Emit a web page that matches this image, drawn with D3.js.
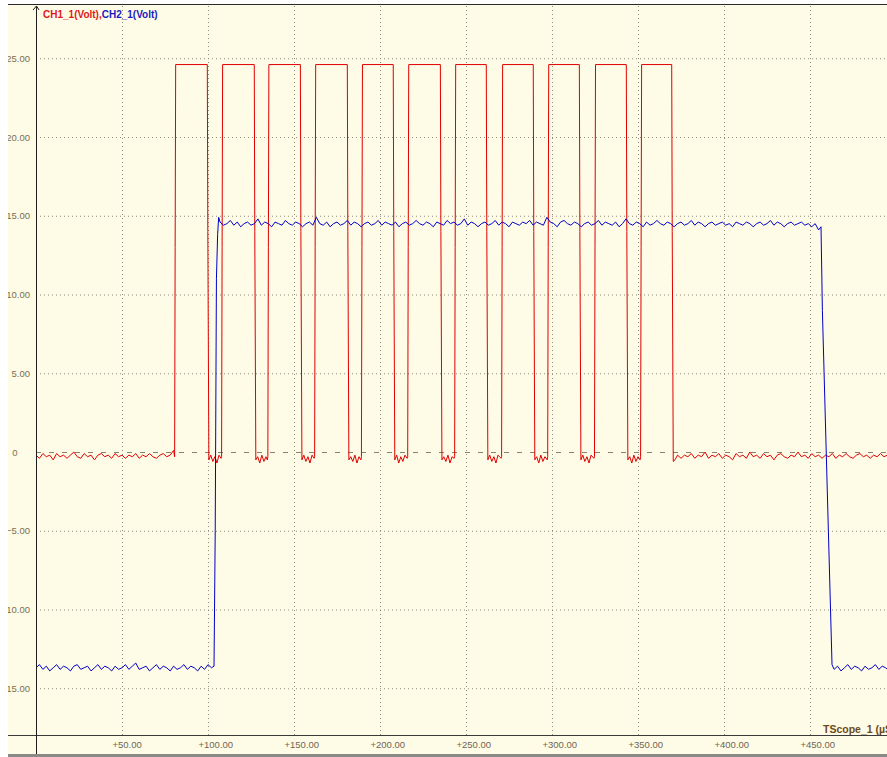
<!DOCTYPE html>
<html>
<head>
<meta charset="utf-8">
<script src="https://cdn.jsdelivr.net/npm/d3@7"></script>
<style>
  html, body { margin: 0; padding: 0; background: #fff; }
  svg { display: block; }
</style>
</head>
<body>
<div class="scope"></div>
<script>
// axis ticks
const xTicks = [50, 100, 150, 200, 250, 300, 350, 400, 450];
const yTicks = [25, 20, 15, 10, 5, 0, -5, -10, -15];
const seriesNames = ["CH1_1(Volt),", "CH2_1(Volt)"];
const xTitle = "TScope_1 (\u00b5S)";

// CH1 trace, [time us, volt]
const ch1 = [
  [0,-0.2],[2,-0.4],[4,-0.1],[6,-0.3],[8,-0.2],[10,-0.5],[12,-0.1],[14,-0.3],[16,-0.2],[18,-0.4],
  [20,-0.2],[22,0.0],[24,-0.3],[26,-0.4],[28,-0.1],[30,-0.3],[32,-0.2],[34,-0.5],[36,-0.2],[38,-0.1],
  [40,-0.3],[42,-0.2],[44,-0.4],[46,-0.1],[48,-0.3],[50,-0.2],[52,-0.4],[54,-0.2],[56,-0.3],[58,-0.1],
  [60,-0.4],[62,-0.2],[64,-0.3],[66,-0.1],[68,-0.3],[70,-0.4],[72,-0.2],[74,-0.1],[76,-0.3],[78,-0.2],[80,0.1],
  [80.6,-0.3],[80.9,13],[81.2,24.6],[99.6,24.6],[99.9,14],[100.5,-0.5],
  [101.6,-0.2],[102.8,-0.6],[104.0,-0.3],[105.2,-0.7],[106.4,-0.2],[107.6,-0.4],
  [107.9,-0.3],[108.2,13],[108.5,24.6],[126.9,24.6],[127.2,14],[127.8,-0.5],
  [128.9,-0.3],[130.1,-0.7],[131.3,-0.2],[132.5,-0.6],[133.7,-0.3],[134.5,-0.5],
  [134.8,-0.3],[135.1,13],[135.4,24.6],[153.7,24.6],[154.0,14],[154.6,-0.5],
  [155.7,-0.2],[156.9,-0.6],[158.1,-0.3],[159.3,-0.7],[160.5,-0.2],[161.7,-0.4],
  [162.0,-0.3],[162.3,13],[162.6,24.6],[181.0,24.6],[181.3,14],[181.9,-0.5],
  [183.0,-0.3],[184.2,-0.6],[185.4,-0.2],[186.6,-0.7],[187.8,-0.3],[188.9,-0.5],
  [189.2,-0.3],[189.5,13],[189.8,24.6],[207.7,24.6],[208.0,14],[208.6,-0.5],
  [209.7,-0.2],[210.9,-0.7],[212.1,-0.3],[213.3,-0.6],[214.5,-0.2],[215.8,-0.4],
  [216.1,-0.3],[216.4,13],[216.7,24.6],[235.1,24.6],[235.4,14],[236.0,-0.5],
  [237.1,-0.3],[238.3,-0.6],[239.5,-0.2],[240.7,-0.7],[241.9,-0.3],[243.1,-0.4],
  [243.4,-0.3],[243.7,13],[244.0,24.6],[261.8,24.6],[262.1,14],[262.7,-0.5],
  [263.8,-0.2],[265.0,-0.6],[266.2,-0.3],[267.4,-0.7],[268.6,-0.2],[270.4,-0.4],
  [270.7,-0.3],[271.0,13],[271.3,24.6],[289.1,24.6],[289.4,14],[290.0,-0.5],
  [291.1,-0.3],[292.3,-0.7],[293.5,-0.2],[294.7,-0.6],[295.9,-0.3],[297.2,-0.5],
  [297.5,-0.3],[297.8,13],[298.1,24.6],[315.9,24.6],[316.2,14],[316.8,-0.5],
  [317.9,-0.2],[319.1,-0.6],[320.3,-0.3],[321.5,-0.7],[322.7,-0.2],[324.4,-0.4],
  [324.7,-0.3],[325.0,13],[325.3,24.6],[343.2,24.6],[343.5,14],[344.1,-0.5],
  [345.2,-0.3],[346.4,-0.7],[347.6,-0.2],[348.8,-0.6],[350.0,-0.3],[351.2,-0.5],
  [351.5,-0.3],[351.8,13],[352.1,24.6],[369.6,24.6],[369.9,14],[370.5,-0.6],
  [371.5,-0.5],[373,-0.2],[375,-0.4],[377,-0.2],[379,-0.3],[381,-0.1],[383,-0.4],[385,-0.2],[387,-0.3],[389,0.0],
  [391,-0.4],[393,-0.2],[395,-0.3],[397,-0.1],[399,-0.4],[401,-0.2],[403,-0.3],[405,-0.5],[407,-0.1],[409,-0.3],
  [411,-0.2],[413,-0.4],[415,0.0],[417,-0.3],[419,-0.2],[421,-0.4],[423,-0.1],[425,-0.3],[427,-0.2],[429,-0.5],
  [431,-0.2],[433,-0.1],[435,-0.3],[437,-0.4],[439,-0.2],[441,-0.3],[443,0.0],[445,-0.3],[447,-0.2],[449,-0.4],
  [451,-0.1],[453,-0.3],[455,-0.2],[457,-0.4],[459,-0.2],[461,-0.3],[463,-0.1],[465,-0.4],[467,-0.2],[469,-0.3],
  [471,-0.1],[473,-0.3],[475,-0.4],[477,-0.2],[479,-0.1],[481,-0.3],[483,-0.2],[485,-0.4],[487,-0.2],[489,-0.3],
  [491,-0.1],[493,-0.3],[495,-0.2],[497,-0.4],[499,-0.2]
];

// CH2 trace, [time us, volt]
const ch2 = [
  [0,-13.7],[2,-13.5],[4,-13.8],[6,-13.6],[8,-13.9],[10,-13.7],[12,-13.5],[14,-13.8],[16,-13.6],[18,-13.7],
  [20,-13.9],[22,-13.6],[24,-13.5],[26,-13.8],[28,-13.7],[30,-13.6],[32,-13.9],[34,-13.7],[36,-13.5],[38,-13.8],
  [40,-13.6],[42,-13.7],[44,-13.9],[46,-13.6],[48,-13.8],[50,-13.7],[52,-13.5],[54,-13.8],[56,-13.6],[58,-13.4],
  [60,-13.8],[62,-13.7],[64,-13.6],[66,-13.9],[68,-13.7],[70,-13.5],[72,-13.8],[74,-13.6],[76,-13.7],[78,-13.9],
  [80,-13.6],[82,-13.8],[84,-13.7],[86,-13.5],[88,-13.8],[90,-13.6],[92,-13.7],[94,-13.9],[96,-13.6],[98,-13.8],
  [100,-13.5],[102,-13.7],[103.5,-13.6],
  [104.2,-5],[104.9,11],[105.6,13.8],[106.2,14.9],
  [107,14.6],[109,14.4],[111,14.5],[113,14.7],[115,14.4],[117,14.6],[119,14.3],[121,14.5],[123,14.6],[125,14.4],
  [127,14.5],[129,14.8],[131,14.4],[133,14.6],[135,14.5],[137,14.3],[139,14.6],[141,14.5],[143,14.4],[145,14.7],
  [147,14.5],[149,14.4],[151,14.6],[153,14.5],[155,14.3],[157,14.5],[159,14.6],[161,14.4],[163,14.9],[165,14.5],
  [167,14.4],[169,14.6],[171,14.3],[173,14.5],[175,14.6],[177,14.4],[179,14.5],[181,14.7],[183,14.4],[185,14.6],
  [187,14.5],[189,14.3],[191,14.5],[193,14.6],[195,14.4],[197,14.5],[199,14.7],[201,14.4],[203,14.6],[205,14.5],
  [207,14.4],[209,14.6],[211,14.3],[213,14.5],[215,14.6],[217,14.4],[219,14.5],[221,14.7],[223,14.5],[225,14.4],
  [227,14.6],[229,14.5],[231,14.3],[233,14.6],[235,14.5],[237,14.4],[239,14.7],[241,14.5],[243,14.6],[245,14.4],
  [247,14.5],[249,14.8],[251,14.4],[253,14.6],[255,14.5],[257,14.3],[259,14.5],[261,14.6],[263,14.4],[265,14.5],
  [267,14.7],[269,14.4],[271,14.6],[273,14.5],[275,14.3],[277,14.6],[279,14.5],[281,14.4],[283,14.6],[285,14.5],
  [287,14.7],[289,14.4],[291,14.6],[293,14.5],[295,14.4],[297,14.9],[299,14.6],[301,14.5],[303,14.3],[305,14.6],
  [307,14.7],[309,14.5],[311,14.4],[313,14.6],[315,14.5],[317,14.3],[319,14.5],[321,14.6],[323,14.4],[325,14.5],
  [327,14.7],[329,14.4],[331,14.6],[333,14.5],[335,14.4],[337,14.6],[339,14.3],[341,14.5],[343,14.8],[345,14.5],
  [347,14.4],[349,14.6],[351,14.5],[353,14.3],[355,14.6],[357,14.4],[359,14.5],[361,14.7],[363,14.5],[365,14.4],
  [367,14.6],[369,14.5],[371,14.3],[373,14.5],[375,14.6],[377,14.4],[379,14.5],[381,14.7],[383,14.4],[385,14.6],
  [387,14.5],[389,14.3],[391,14.5],[393,14.6],[395,14.4],[397,14.5],[399,14.6],[401,14.4],[403,14.5],[405,14.3],
  [407,14.6],[409,14.5],[411,14.4],[413,14.6],[415,14.5],[417,14.3],[419,14.5],[421,14.6],[423,14.4],[425,14.5],
  [427,14.7],[429,14.4],[431,14.6],[433,14.5],[435,14.3],[437,14.5],[439,14.6],[441,14.4],[443,14.5],[445,14.6],
  [447,14.4],[449,14.5],[451,14.3],[453,14.5],[455,14.1],[456.4,14.3],
  [457.2,9],[462.8,-13.5],
  [464,-13.8],[466,-13.6],[468,-13.9],[470,-13.7],[472,-13.5],[474,-13.8],[476,-13.6],[478,-13.7],[480,-13.9],
  [482,-13.6],[484,-13.8],[486,-13.7],[488,-13.5],[490,-13.8],[492,-13.6],[494,-13.7],[496,-13.9],[498,-13.6],[500,-13.7]
];

const draw = () => {
    const W = 887, H = 757;
    const panel = { left: 8, top: 4, right: 887, bottom: 754 };
    const plot = { left: 36, top: 4, right: 887, bottom: 735 };

    const svg = d3.select('.scope').append('svg')
        .attr('width', W)
        .attr('height', H)
        .style('font-family', '"Liberation Sans", Arial, sans-serif');

    const x = d3.scaleLinear().domain([0, 500]).range([36, 896]);
    const y = d3.scaleLinear().domain([-20, 30]).range([767, -20.5]);

    svg.append('defs').append('clipPath').attr('id', 'panelClip')
        .append('rect')
        .attr('x', panel.left).attr('y', panel.top)
        .attr('width', panel.right - panel.left).attr('height', panel.bottom - panel.top);
    svg.select('defs').append('clipPath').attr('id', 'plotClip')
        .append('rect')
        .attr('x', plot.left).attr('y', plot.top)
        .attr('width', plot.right - plot.left).attr('height', plot.bottom - plot.top);

    // cream panel
    svg.append('rect')
        .attr('x', panel.left).attr('y', panel.top)
        .attr('width', panel.right - panel.left).attr('height', panel.bottom - panel.top)
        .attr('fill', '#fefbe6');
    svg.append('rect')
        .attr('x', panel.left).attr('y', panel.bottom)
        .attr('width', panel.right - panel.left).attr('height', H - panel.bottom)
        .attr('fill', '#8a8a86');

    const g = svg.append('g').attr('clip-path', 'url(#panelClip)');

    // vertical dotted grid
    g.append('g')
        .attr('transform', `translate(0,${plot.bottom})`)
        .call(d3.axisBottom(x).tickValues(xTicks).tickSize(-(plot.bottom - plot.top)).tickFormat(''))
        .call(a => a.select('.domain').remove())
        .call(a => a.selectAll('line')
            .attr('stroke', '#8e8e80')
            .attr('stroke-dasharray', '1,3'));

    // horizontal dotted grid (zero line dashed)
    g.append('g')
        .attr('transform', `translate(${plot.left},0)`)
        .call(d3.axisLeft(y).tickValues(yTicks).tickSize(-(plot.right - plot.left)).tickFormat(''))
        .call(a => a.select('.domain').remove())
        .call(a => a.selectAll('line')
            .attr('stroke', d => d === 0 ? '#8a8070' : '#8e8e80')
            .attr('stroke-dasharray', d => d === 0 ? '5,8' : '1,3'));

    // traces
    const line = d3.line()
        .x(d => x(d[0]))
        .y(d => y(d[1]));
    const traces = g.append('g').attr('clip-path', 'url(#plotClip)');
    traces.append('path')
        .datum(ch1)
        .attr('fill', 'none')
        .attr('stroke', '#e00000')
        .attr('stroke-width', 1)
        .attr('d', line);
    traces.append('path')
        .datum(ch2)
        .attr('fill', 'none')
        .attr('stroke', '#0000c8')
        .attr('stroke-width', 1)
        .attr('d', line);

    // y labels
    g.append('g')
        .attr('transform', `translate(${plot.left},0)`)
        .call(d3.axisLeft(y).tickValues(yTicks).tickSize(0).tickPadding(6)
            .tickFormat(d => d === 0 ? '0' : d3.format('.2f')(d)))
        .call(a => a.select('.domain').remove())
        .call(a => a.selectAll('text')
            .attr('fill', '#7d6e50')
            .style('font-size', '9.5px')
            .filter(d => d === 0)
            .attr('text-anchor', 'middle')
            .attr('x', -21));

    // x labels
    g.append('g')
        .attr('transform', `translate(0,${plot.bottom})`)
        .call(d3.axisBottom(x).tickValues(xTicks).tickSize(0)
            .tickFormat(d => '+' + d3.format('.2f')(d)))
        .call(a => a.select('.domain').remove())
        .call(a => a.selectAll('text')
            .attr('fill', '#6e6654')
            .style('font-size', '9.5px')
            .attr('text-anchor', 'start')
            .attr('x', -10)
            .attr('y', 6));

    // frame lines
    g.append('line')
        .attr('x1', panel.left).attr('x2', panel.right)
        .attr('y1', plot.bottom + 0.5).attr('y2', plot.bottom + 0.5)
        .attr('stroke', '#3a3a3a');
    svg.append('line')
        .attr('x1', panel.left).attr('x2', panel.right)
        .attr('y1', panel.top + 0.5).attr('y2', panel.top + 0.5)
        .attr('stroke', '#2a2a2a');
    g.append('line')
        .attr('x1', plot.left + 0.5).attr('x2', plot.left + 0.5)
        .attr('y1', 6).attr('y2', H)
        .attr('stroke', '#1e1e1e');
    svg.append('path')
        .attr('d', `M${plot.left - 3},10 L${plot.left + 0.5},6 L${plot.left + 3},10`)
        .attr('fill', 'none')
        .attr('stroke', '#1e1e1e');

    // legend title
    const title = svg.append('text')
        .attr('x', 43).attr('y', 17.5)
        .style('font-size', '10px')
        .style('font-weight', 'bold');
    title.append('tspan').attr('fill', '#e01818').text(seriesNames[0]);
    title.append('tspan').attr('fill', '#1a1ac0').text(seriesNames[1]);

    // x title
    g.append('text')
        .attr('x', 823).attr('y', 732.5)
        .attr('fill', '#6b4a1c')
        .style('font-size', '10.5px')
        .style('font-weight', 'bold')
        .text(xTitle);
};

draw();
</script>
</body>
</html>
